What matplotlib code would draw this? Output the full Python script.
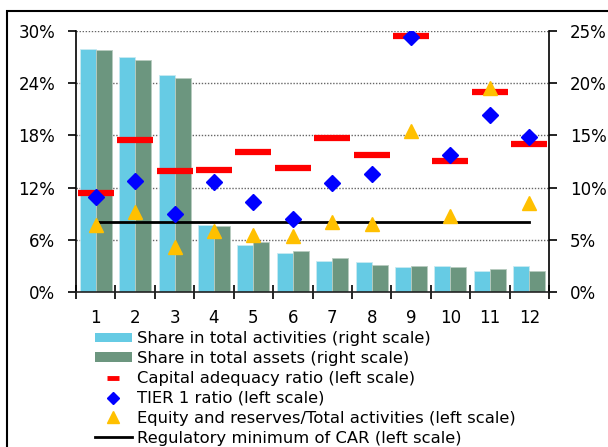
import numpy as np
import matplotlib
matplotlib.use("Agg")
import matplotlib.pyplot as plt
from matplotlib.lines import Line2D
from matplotlib.patches import Patch, Rectangle
from matplotlib.ticker import FuncFormatter, FixedLocator

plt.rcParams['font.family'] = ['DejaVu Sans']

categories = [str(i) for i in range(1, 13)]
share_activities = [23.3, 22.5, 20.8, 6.45, 4.5, 3.75, 3.0, 2.85, 2.35, 2.5, 2.0, 2.5]
share_assets = [23.2, 22.2, 20.5, 6.3, 4.8, 3.95, 3.25, 2.6, 2.5, 2.35, 2.2, 2.0]
car = [11.35, 17.45, 13.9, 14.0, 16.1, 14.3, 17.65, 15.7, 29.45, 15.05, 22.95, 17.0]
tier1 = [10.95, 12.8, 8.95, 12.7, 10.4, 8.35, 12.55, 13.55, 29.35, 15.7, 20.3, 17.85]
equity = [7.7, 9.15, 5.15, 7.0, 6.55, 6.45, 8.0, 7.8, 18.5, 8.75, 23.4, 10.25]
reg_min = 8.0

labels = ["Share in total activities (right scale)",
          "Share in total assets (right scale)",
          "Capital adequacy ratio (left scale)",
          "TIER 1 ratio (left scale)",
          "Equity and reserves/Total activities (left scale)",
          "Regulatory minimum of CAR (left scale)"]

c_act = '#66CBE4'
c_ass = '#6C967F'

fig = plt.figure(figsize=(6.08, 4.47), dpi=100)
ax = fig.add_axes([76 / 608, 1 - 292 / 447, (549 - 76) / 608, (292 - 31) / 447])
ax2 = ax.twinx()
ax.set_zorder(ax2.get_zorder() + 1)
ax.patch.set_visible(False)

x = np.arange(1, 13)
w = 0.405
ax2.bar(x - w / 2, share_activities, w, color=c_act, edgecolor='#C8EAF2', lw=0.6)
ax2.bar(x + w / 2, share_assets, w, color=c_ass, edgecolor='#B8CCC0', lw=0.6)

# grid from the right scale (same heights as the left 6% steps), kept behind the bars
ax2.set_ylim(0, 25)
ax2.set_yticks([0, 5, 10, 15, 20, 25])
ax2.yaxis.set_major_formatter(FuncFormatter(lambda v, p: f"{v:.0f}%"))
ax2.set_axisbelow(True)
for v in [5, 10, 15, 20, 25]:
    ax2.axhline(v, color='#666666', lw=1.0, ls=(0, (1, 1.2)), zorder=0)

ax.plot(x, car, ls='none', marker='_', ms=26, mew=4.5, color='#FF0000', zorder=3)
ax.plot(x, tier1, ls='none', marker='D', ms=8, color='#0000FF', zorder=4)
ax.plot(x, equity, ls='none', marker='^', ms=10.5, color='#FFC000', zorder=5)
ax.plot([x[0], x[-1]], [reg_min, reg_min], color='black', lw=2, zorder=2)

ax.set_ylim(0, 30)
ax.set_yticks([0, 6, 12, 18, 24, 30])
ax.yaxis.set_major_formatter(FuncFormatter(lambda v, p: f"{v:.0f}%"))
ax.set_xlim(0.5, 12.5)
ax.xaxis.set_major_locator(FixedLocator(np.arange(0.5, 13, 1)))
ax.xaxis.set_minor_locator(FixedLocator(x))
ax.set_xticklabels([])
ax.set_xticklabels(categories, minor=True)
ax.tick_params(axis='x', which='major', direction='inout', length=10, width=1.2)
ax.tick_params(axis='x', which='minor', length=0, pad=12, labelsize=12)
ax.tick_params(axis='y', direction='out', length=6, width=1.2, labelsize=12, pad=9)
ax2.tick_params(axis='y', direction='out', length=6, width=1.2, labelsize=12, pad=9)

for a in (ax, ax2):
    a.spines['top'].set_visible(False)
    for s in ('left', 'right', 'bottom'):
        a.spines[s].set_linewidth(1.2)
ax.spines['right'].set_visible(False)
ax2.spines['left'].set_visible(False)
ax2.spines['bottom'].set_visible(False)
ax.spines['bottom'].set_color('#222222')

handles = [Patch(facecolor=c_act, edgecolor='none'),
           Patch(facecolor=c_ass, edgecolor='none'),
           Line2D([], [], ls='none', marker='_', ms=9, mew=3.5, color='#FF0000'),
           Line2D([], [], ls='none', marker='D', ms=6, color='#0000FF'),
           Line2D([], [], ls='none', marker='^', ms=9, color='#FFC000'),
           Line2D([], [], color='black', lw=2)]
fig.legend(handles, labels, loc='upper left', bbox_to_anchor=(95 / 608, 1 - 331 / 447),
           frameon=False, fontsize=11.8, handlelength=2.25, handleheight=0.5,
           handletextpad=0.3, labelspacing=0.3, borderpad=0, borderaxespad=0)

# outer frame of the original figure (cut off at right and bottom)
fig.patches.append(Rectangle((7 / 608, -0.2), 1.2, 1.2 - 11 / 447,
                             transform=fig.transFigure, fill=False,
                             edgecolor='black', lw=1.5))

fig.savefig('out.png', dpi=100)
